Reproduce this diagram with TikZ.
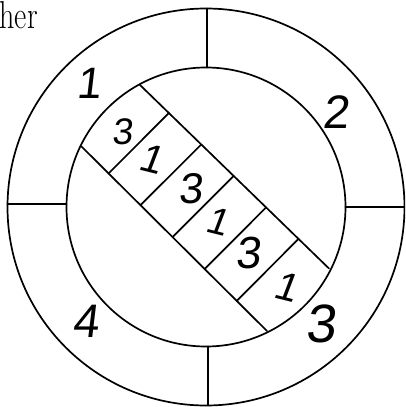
\documentclass[tikz,border=0pt]{standalone}
\usepackage{fontspec}
\usepackage{graphicx}
\usetikzlibrary{calc}
\newfontfamily\handfont[FakeSlant=0.12]{Liberation Sans}
\tikzset{
  ink/.style={line width=1.7pt, line cap=round, line join=round},
  digit/.style={inner sep=0pt, font=\handfont\fontsize{#1}{#1}\selectfont},
  digit/.default=38
}
\begin{document}
\begin{tikzpicture}[x=1pt,y=-1pt]
\useasboundingbox (0,0) rectangle (405,407);
\clip (0,0) rectangle (405,407);
\coordinate (C) at (206,207);
% rings
\draw[ink] (C) circle[radius=198.5pt];
\draw[ink] (C) circle[radius=139.5pt];
% radial separators of the outer ring
\draw[ink] (207,67.5) -- (207,8.5);
\draw[ink] (66.5,204) -- (7.5,204);
\draw[ink] (345.5,207) -- (404.5,207);
\draw[ink] (208,346.5) -- (208,405.5);
% diagonal strip
\coordinate (A1) at (139.5,84.5);
\coordinate (A2) at (329,268.5);
\coordinate (B1) at (81.5,146.5);
\coordinate (B2) at (267,331);
\draw[ink] (A1) -- (A2);
\draw[ink] (B1) -- (B2);
\foreach \t/\u in {0.155/0.146,0.326/0.318,0.497/0.491,0.668/0.664,0.839/0.837}{
  \draw[ink] ($(A1)!\t!(A2)$) -- ($(B1)!\u!(B2)$);
}
% text
\node[anchor=base east, inner sep=0pt, font=\fontsize{30}{30}\selectfont] (her) at (38,28.3) {\scalebox{1}[1.3]{her}};
\node[digit=44] (o1) at (89,83) {1};
\node[digit=47] (o2) at (336,112) {2};
\node[digit=47] (o4) at (86,321) {4};
\node[digit=54] (o3) at (321,324) {3};
\node[digit=37] (i1) at (122,132) {3};
\node[digit=40, rotate=-14] (i2) at (152,159) {1};
\node[digit=43] (i3) at (190,189) {3};
\node[digit=38, rotate=-14] (i4) at (218,221) {1};
\node[digit=45] (i5) at (248,253) {3};
\node[digit=40, rotate=-14] (i6) at (287,287) {1};
\end{tikzpicture}
\end{document}
